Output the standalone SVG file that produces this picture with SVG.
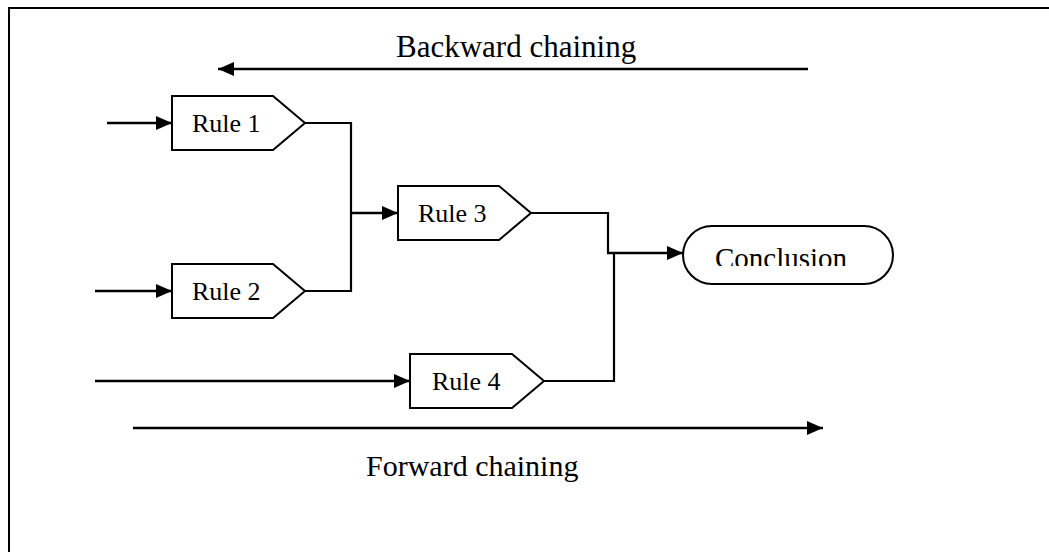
<svg xmlns="http://www.w3.org/2000/svg" width="1049" height="552" viewBox="0 0 1049 552">
  <defs>
    <marker id="arrow" markerUnits="userSpaceOnUse" markerWidth="16" markerHeight="14" refX="16" refY="7" orient="auto">
      <path d="M0,0 L16,7 L0,14 Z" fill="#000"/>
    </marker>
    <clipPath id="conclusion-clip">
      <rect x="683" y="226" width="210" height="40"/>
    </clipPath>
  </defs>
  <style>
    text { font-family: "Liberation Serif", "Times New Roman", serif; fill: #000; }
    .lbl { font-size: 26px; }
    .cap { font-size: 30px; }
    .shape { fill: #fff; stroke: #000; stroke-width: 2; }
    .wire { fill: none; stroke: #000; stroke-width: 2.2; }
    .arrow { fill: none; stroke: #000; stroke-width: 2.5; marker-end: url(#arrow); }
  </style>

  <rect width="1049" height="552" fill="#fff"/>
  <!-- page frame -->
  <path d="M9,553 V8 H1050" fill="none" stroke="#000" stroke-width="2"/>

  <g id="backward-chaining">
    <text class="cap" x="396" y="57" style="font-size:31px">Backward chaining</text>
    <line class="arrow" x1="808" y1="69" x2="218" y2="69"/>
  </g>

  <g id="forward-chaining">
    <line class="arrow" x1="133" y1="428" x2="823" y2="428"/>
    <text class="cap" x="366" y="476">Forward chaining</text>
  </g>

  <g id="connectors">
    <line class="arrow" x1="107" y1="123" x2="172" y2="123"/>
    <line class="arrow" x1="95" y1="291" x2="172" y2="291"/>
    <line class="arrow" x1="95" y1="381" x2="410" y2="381"/>
    <path class="wire" d="M305,123 H351 V291 H305"/>
    <line class="arrow" x1="351" y1="213" x2="398" y2="213"/>
    <path class="wire" d="M531,213 H608 V253"/>
    <path class="wire" d="M544,381 H614 V253"/>
    <line class="arrow" x1="607" y1="253" x2="683" y2="253"/>
  </g>

  <g id="rule1">
    <path class="shape" d="M172,96 H273 L305,123 L273,150 H172 Z"/>
    <text class="lbl" x="192" y="132">Rule 1</text>
  </g>

  <g id="rule2">
    <path class="shape" d="M172,264 H273 L305,291 L273,318 H172 Z"/>
    <text class="lbl" x="192" y="300">Rule 2</text>
  </g>

  <g id="rule3">
    <path class="shape" d="M398,186 H499 L531,213 L499,240 H398 Z"/>
    <text class="lbl" x="418" y="222">Rule 3</text>
  </g>

  <g id="rule4">
    <path class="shape" d="M410,354 H512 L544,381 L512,408 H410 Z"/>
    <text class="lbl" x="432" y="390">Rule 4</text>
  </g>

  <g id="conclusion">
    <rect class="shape" x="683" y="226" width="210" height="58" rx="29" ry="29"/>
    <text class="cap" x="715" y="268" style="font-size:29px" clip-path="url(#conclusion-clip)">Conclusion</text>
  </g>
</svg>
